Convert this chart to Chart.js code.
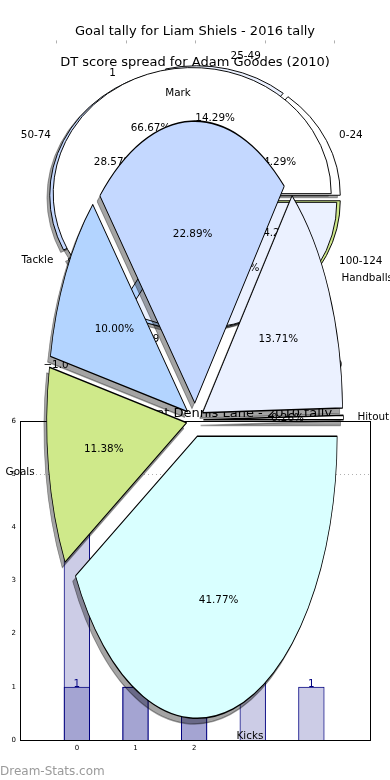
<!DOCTYPE html>
<html>
<head>
<meta charset="utf-8">
<title>Dream-Stats</title>
<script src="https://cdn.jsdelivr.net/npm/chart.js@4.4.1/dist/chart.umd.min.js"></script>
<style>
  html, body { margin: 0; padding: 0; background: #fff; }
  #stack { position: relative; width: 390px; height: 780px; overflow: hidden; }
  #stack canvas { position: absolute; left: 0; top: 0; }
</style>
</head>
<body>
<div id="stack">
  <canvas id="dtPie" width="390" height="780"></canvas>
  <canvas id="goalPie" width="390" height="780"></canvas>
  <canvas id="laneBars" width="390" height="780"></canvas>
  <canvas id="statPie" width="390" height="780"></canvas>
</div>
<script>
// Liam Shiels 2016: games per goal count
const goalLabels = ['1', '0'];
const goalGames = [2, 1];

// Adam Goodes 2010: games per DT score band
const dtLabels = ['0-24', '25-49', '50-74', '75-99', '100-124'];
const dtGames = [1, 1, 2, 2, 1];

// share of stats (%)
const statLabels = ['Hitout', 'Handballs', 'Mark', 'Tackle', 'Goals', 'Kicks'];
const statShare = [0.26, 13.71, 22.89, 10.00, 11.38, 41.77];

// Dennis Lane 2010, per round
const rounds = [0, 1, 2, 3, 4];
const laneTotal = [4, 1, 3, 2, 0];
const laneGoals = [1, 1, 1, 0, 1];

const roundTicks = [0, 1, 2];
const pieAxisTicks = [-1, -0.5, 0, 0.5, 1];

const sliceColors = ['#ffffff', '#ebf1ff', '#c4d8ff', '#b3d4ff', '#cfe98a', '#d9ffff'];
const barFill = 'rgba(0,0,128,0.2)';
const barEdge = '#000080';

Chart.defaults.font.family = '"DejaVu Sans", sans-serif';
const LABEL_FONT = '10.4px "DejaVu Sans"';
const TITLE_FONT = '13px "DejaVu Sans"';
const SHADOW_FILTER = 'brightness(0) opacity(0.36)';

// the pies are squashed / stretched ellipses, slices pulled out a bit
const AB_SY = 0.907, GOAL_EXPLODE = 0.04, DT_EXPLODE = 0.05, AB_SHADOW = [-2.8, 2.5];
const STAT_SY = 2.014, STAT_EXPLODE = 0.06, STAT_SHADOW = [-2.8, 5.6];

function paintSlices(ctx, chart, sy, explode, shadow) {
  chart.getDatasetMeta(0).data.forEach(arc => {
    const mid = (arc.startAngle + arc.endAngle) / 2;
    const d = explode * arc.outerRadius;
    ctx.save();
    if (shadow) {
      ctx.translate(shadow[0], shadow[1]);
      ctx.filter = SHADOW_FILTER;
    }
    ctx.translate(arc.x, arc.y);
    ctx.scale(1, sy);
    ctx.translate(Math.cos(mid) * d - arc.x, Math.sin(mid) * d - arc.y);
    arc.draw(ctx);
    ctx.restore();
  });
}

function pieTexts(ctx, chart, sy, explode) {
  const arcs = chart.getDatasetMeta(0).data;
  const vals = chart.data.datasets[0].data;
  const total = vals.reduce((a, b) => a + b, 0);
  ctx.save();
  ctx.font = LABEL_FONT;
  ctx.fillStyle = '#000';
  ctx.textBaseline = 'middle';
  arcs.forEach((arc, i) => {
    const mid = (arc.startAngle + arc.endAngle) / 2;
    const c = Math.cos(mid), s = Math.sin(mid);
    const r = arc.outerRadius;
    ctx.textAlign = c > 0 ? 'left' : 'right';
    ctx.fillText(chart.data.labels[i], arc.x + c * (1.1 + explode) * r, arc.y + s * (1.1 + explode) * r * sy);
    ctx.textAlign = 'center';
    ctx.fillText((vals[i] / total * 100).toFixed(2) + '%', arc.x + c * (0.6 + explode) * r, arc.y + s * (0.6 + explode) * r * sy);
  });
  ctx.restore();
}

function pieData(labels, values, border) {
  return {
    labels: labels.slice().reverse(),
    datasets: [{
      data: values.slice().reverse(),
      backgroundColor: sliceColors.slice(0, values.length).reverse(),
      borderColor: '#000',
      borderWidth: border
    }]
  };
}

function pieOptions(padding, radius) {
  return {
    responsive: false,
    animation: false,
    devicePixelRatio: 1,
    events: [],
    rotation: 90,
    radius: radius,
    layout: { padding: padding },
    plugins: { legend: { display: false }, tooltip: { enabled: false } }
  };
}

let dtChart = null;

const goalChart = new Chart(document.getElementById('goalPie'), {
  type: 'pie',
  data: pieData(goalLabels, goalGames, 1),
  options: pieOptions({ top: 0, bottom: 384 }, 139),
  plugins: [{
    id: 'goalPaint',
    beforeDatasetsDraw(chart) {
      paintSlices(chart.ctx, chart, AB_SY, GOAL_EXPLODE, null);
      return false;
    },
    afterDraw(chart) {
      const ctx = chart.ctx;
      if (dtChart) pieTexts(ctx, dtChart, AB_SY, DT_EXPLODE);
      pieTexts(ctx, chart, AB_SY, GOAL_EXPLODE);

      // leftover axes of the pie: tick marks and x labels
      const arc = chart.getDatasetMeta(0).data[0];
      const half = 1.25 * arc.outerRadius * AB_SY;
      const top = arc.y - half, bottom = arc.y + half;
      ctx.save();
      ctx.strokeStyle = '#b0b0b0';
      ctx.lineWidth = 1;
      ctx.font = LABEL_FONT;
      ctx.fillStyle = '#000';
      ctx.textAlign = 'center';
      ctx.textBaseline = 'middle';
      pieAxisTicks.forEach(t => {
        const x = arc.x + t * arc.outerRadius;
        ctx.beginPath();
        ctx.moveTo(Math.round(x) + 0.5, top);
        ctx.lineTo(Math.round(x) + 0.5, top + 3);
        ctx.moveTo(Math.round(x) + 0.5, bottom);
        ctx.lineTo(Math.round(x) + 0.5, bottom - 3);
        ctx.stroke();
        ctx.fillText(t.toFixed(1).replace('-', '\u2212'), x, bottom + 10);
      });
      ctx.font = TITLE_FONT;
      ctx.textBaseline = 'alphabetic';
      ctx.fillText('Goal tally for Liam Shiels - 2016 tally', arc.x, top - 5);
      ctx.fillText('DT score spread for Adam Goodes (2010)', arc.x, 66);
      ctx.restore();
    }
  }]
});

dtChart = new Chart(document.getElementById('dtPie'), {
  type: 'pie',
  data: pieData(dtLabels, dtGames, 1),
  options: pieOptions({ top: 0, bottom: 384 }, 139),
  plugins: [{
    id: 'dtPaint',
    beforeDatasetsDraw(chart) {
      const ctx = chart.ctx;
      paintSlices(ctx, goalChart, AB_SY, GOAL_EXPLODE, AB_SHADOW);
      paintSlices(ctx, chart, AB_SY, DT_EXPLODE, AB_SHADOW);
      paintSlices(ctx, chart, AB_SY, DT_EXPLODE, null);
      return false;
    }
  }]
});
goalChart.update('none');

const laneChart = new Chart(document.getElementById('laneBars'), {
  type: 'bar',
  data: {
    datasets: [
      {
        data: rounds.map((r, i) => ({ x: r, y: laneTotal[i] })),
        backgroundColor: barFill, borderColor: barEdge, borderWidth: 1,
        grouped: false, barPercentage: 0.45, categoryPercentage: 1
      },
      {
        data: rounds.map((r, i) => ({ x: r, y: laneGoals[i] })),
        backgroundColor: barFill, borderColor: barEdge, borderWidth: 1,
        grouped: false, barPercentage: 0.45, categoryPercentage: 1
      }
    ]
  },
  options: {
    responsive: false,
    animation: false,
    devicePixelRatio: 1,
    events: [],
    layout: { padding: { top: 421, right: 20, left: 0, bottom: 0 } },
    plugins: { legend: { display: false }, tooltip: { enabled: false } },
    scales: {
      x: {
        type: 'linear',
        offset: false,
        min: -0.97,
        max: 5,
        afterBuildTicks: s => { s.ticks = roundTicks.map(v => ({ value: v })); },
        afterFit: s => { s.height = 40; },
        grid: { display: false, drawTicks: false },
        border: { display: false },
        ticks: { color: '#000', font: { size: 7 }, padding: 4, maxRotation: 0 }
      },
      y: {
        min: 0,
        max: 6,
        afterFit: s => { s.width = 20; },
        grid: { display: false, drawTicks: false },
        border: { display: false },
        ticks: { stepSize: 1, color: '#000', font: { size: 7 }, padding: 4 }
      }
    }
  },
  plugins: [{
    id: 'laneExtras',
    beforeDatasetsDraw(chart) {
      const ctx = chart.ctx, a = chart.chartArea;
      const y = Math.round(chart.scales.y.getPixelForValue(5)) + 0.5;
      ctx.save();
      ctx.strokeStyle = '#b0b0b0';
      ctx.setLineDash([1, 3]);
      ctx.beginPath();
      ctx.moveTo(a.left, y);
      ctx.lineTo(a.right, y);
      ctx.stroke();
      ctx.restore();
    },
    afterDatasetsDraw(chart) {
      const ctx = chart.ctx;
      ctx.save();
      ctx.font = LABEL_FONT;
      ctx.fillStyle = barEdge;
      ctx.textAlign = 'center';
      chart.data.datasets.forEach((ds, di) => {
        chart.getDatasetMeta(di).data.forEach((bar, i) => {
          const v = ds.data[i].y;
          if (v) ctx.fillText(String(v), bar.x, bar.y);
        });
      });
      ctx.restore();
    },
    afterDraw(chart) {
      const ctx = chart.ctx, a = chart.chartArea;
      ctx.save();
      ctx.strokeStyle = '#000';
      ctx.lineWidth = 1;
      ctx.strokeRect(a.left + 0.5, a.top + 0.5, a.right - a.left, a.bottom - a.top);
      ctx.fillStyle = '#000';
      ctx.font = TITLE_FONT;
      ctx.textAlign = 'center';
      ctx.fillText('Goals for Vincent Dennis Lane - 2010 tally', (a.left + a.right) / 2, a.top - 4);
      ctx.fillStyle = '#9a9a9a';
      ctx.font = '12px "DejaVu Sans"';
      ctx.textAlign = 'left';
      ctx.fillText('Dream-Stats.com', 0, 775);
      ctx.restore();
    }
  }]
});

const statChart = new Chart(document.getElementById('statPie'), {
  type: 'pie',
  data: pieData(statLabels, statShare, 0.75),
  options: pieOptions({ top: 60, bottom: 0 }, 140),
  plugins: [{
    id: 'statPaint',
    beforeDatasetsDraw(chart) {
      paintSlices(chart.ctx, chart, STAT_SY, STAT_EXPLODE, STAT_SHADOW);
      paintSlices(chart.ctx, chart, STAT_SY, STAT_EXPLODE, null);
      return false;
    },
    afterDraw(chart) {
      pieTexts(chart.ctx, chart, STAT_SY, STAT_EXPLODE);
    }
  }]
});
</script>
</body>
</html>
